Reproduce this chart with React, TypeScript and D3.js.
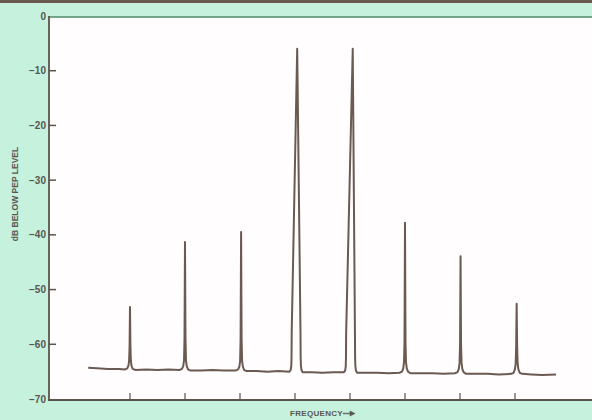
import React from "react";
import * as d3 from "d3";

// ---- data ----
const yTicks = [0, -10, -20, -30, -40, -50, -60, -70];
const yTickLabels = ["0", "−10", "−20", "−30", "−40", "−50", "−60", "−70"];
const xTicks = [1, 2, 3, 4, 5, 6, 7, 8];
const yTitle = "dB BELOW PEP LEVEL";
const xTitle = "FREQUENCY";

// spectrum analyser trace: [frequency (tone spacing units), dB below PEP]
const traceFreq = [
  0.24, 0.4, 0.6, 0.8, 0.91, 0.95, 0.972, 0.984, 0.992, 1.0, 1.008, 1.016, 1.028, 1.05, 1.1,
  1.3, 1.5, 1.7, 1.9, 1.945, 1.968, 1.982, 1.991, 2.0, 2.009, 2.018, 2.032, 2.055, 2.1,
  2.3, 2.5, 2.7, 2.92, 2.965, 2.988, 3.002, 3.011, 3.02, 3.029, 3.038, 3.052, 3.075, 3.12,
  3.3, 3.5, 3.7, 3.9, 3.922, 3.932, 3.937, 3.94, 4.04, 4.1, 4.103, 4.108, 4.118, 4.14,
  4.3, 4.5, 4.7, 4.89, 4.912, 4.922, 4.927, 4.93, 5.05, 5.09, 5.093, 5.098, 5.108, 5.13,
  5.3, 5.5, 5.7, 5.9, 5.945, 5.968, 5.982, 5.991, 6.0, 6.009, 6.018, 6.032, 6.055, 6.1,
  6.3, 6.5, 6.7, 6.91, 6.955, 6.978, 6.992, 7.001, 7.01, 7.019, 7.028, 7.042, 7.065, 7.11,
  7.3, 7.5, 7.7, 7.93, 7.975, 7.998, 8.012, 8.021, 8.03, 8.039, 8.048, 8.062, 8.085, 8.13,
  8.3, 8.5, 8.745,
];
const traceDb = [
  -64.3, -64.4, -64.5, -64.5, -64.6, -64.4, -63.9, -63.0, -60.5, -53.2, -60.5, -63.0, -64.0, -64.5, -64.7,
  -64.6, -64.7, -64.6, -64.7, -64.5, -64.0, -63.0, -59.0, -41.3, -59.0, -63.0, -64.0, -64.6, -64.8,
  -64.8, -64.7, -64.8, -64.8, -64.6, -64.1, -63.1, -59.0, -39.5, -59.0, -63.1, -64.1, -64.7, -64.9,
  -64.9, -65.0, -64.9, -65.0, -64.7, -64.0, -62.5, -58.0, -6.0, -58.0, -62.5, -64.0, -64.7, -65.1,
  -65.1, -65.2, -65.1, -65.1, -64.8, -64.1, -62.5, -58.0, -6.0, -58.0, -62.5, -64.1, -64.8, -65.2,
  -65.2, -65.2, -65.3, -65.2, -65.0, -64.4, -63.3, -59.5, -37.8, -59.5, -63.3, -64.4, -65.0, -65.3,
  -65.3, -65.3, -65.4, -65.3, -65.1, -64.5, -63.4, -60.0, -43.9, -60.0, -63.4, -64.5, -65.1, -65.4,
  -65.4, -65.4, -65.5, -65.4, -65.2, -64.6, -63.6, -60.5, -52.6, -60.5, -63.6, -64.6, -65.2, -65.4,
  -65.5, -65.6, -65.5,
];

const W = 592;
const H = 420;
const left = 49;
const top = 16;
const bottom = 399;

export default function App() {
  const x = d3.scaleLinear().domain([-0.4727, 9.4]).range([left, W]);
  const y = d3.scaleLinear().domain([-70, 0]).range([bottom, top]);

  const pts: [number, number][] = traceFreq.map((f, i) => [f, traceDb[i]]);
  const line = d3
    .line<[number, number]>()
    .x((d) => x(d[0]))
    .y((d) => y(d[1]))
    .curve(d3.curveLinear);

  const axisColor = "#5c544c";
  const textColor = "#5a5650";
  const font = "'Liberation Sans', Arial, sans-serif";

  const yTitleY = 194;
  return (
    <svg
      width={W}
      height={H}
      style={{ position: "absolute", left: 0, top: 0, display: "block" }}
    >
      <rect x={0} y={0} width={W} height={H} fill="#c6f1dd" />
      <rect x={0} y={0} width={W} height={3} fill="#6a5a50" />
      <rect x={left} y={y(0) + 1} width={W - left} height={bottom - y(0) - 1} fill="#fffdfd" />
      {/* top frame */}
      <line x1={left} x2={W} y1={y(0) + 1} y2={y(0) + 1} stroke="#4f8a66" strokeWidth={1.6} />
      {/* left axis */}
      <line x1={left} x2={left} y1={y(0)} y2={bottom + 1} stroke={axisColor} strokeWidth={1.8} />
      {/* bottom axis */}
      <line x1={left - 1} x2={W} y1={bottom + 1} y2={bottom + 1} stroke={axisColor} strokeWidth={1.8} />
      {yTicks.map((t, i) => (
        <g key={t}>
          {i > 0 && i < yTicks.length - 1 && (
            <line x1={left} x2={left + 7} y1={y(t)} y2={y(t)} stroke={axisColor} strokeWidth={1.5} />
          )}
          <text
            x={left - 3}
            y={y(t)}
            dy="0.35em"
            textAnchor="end"
            fontFamily={font}
            fontWeight="bold"
            fontSize={10}
            fill={textColor}
          >
            {yTickLabels[i]}
          </text>
        </g>
      ))}
      {xTicks.map((t) => (
        <line
          key={t}
          x1={x(t)}
          x2={x(t)}
          y1={bottom + 1}
          y2={bottom - 6}
          stroke={axisColor}
          strokeWidth={1.2}
        />
      ))}
      <path d={line(pts) || ""} fill="none" stroke="#6b5a52" strokeWidth={2} strokeLinejoin="round" />
      <text
        transform={`translate(18,${yTitleY}) rotate(-90)`}
        textAnchor="middle"
        fontFamily={font}
        fontWeight="bold"
        fontSize={8.5}
        fill={textColor}
      >
        {yTitle}
      </text>
      <text
        x={290}
        y={416}
        fontFamily={font}
        fontWeight="bold"
        fontSize={8}
        letterSpacing={0.3}
        fill={textColor}
      >
        {xTitle}
      </text>
      <path d="M343,413.2 L350,413.2 L350,411 L355,413.5 L350,416 L350,413.8 L343,413.8 Z" fill={textColor} stroke={textColor} strokeWidth={0.6} />
    </svg>
  );
}
